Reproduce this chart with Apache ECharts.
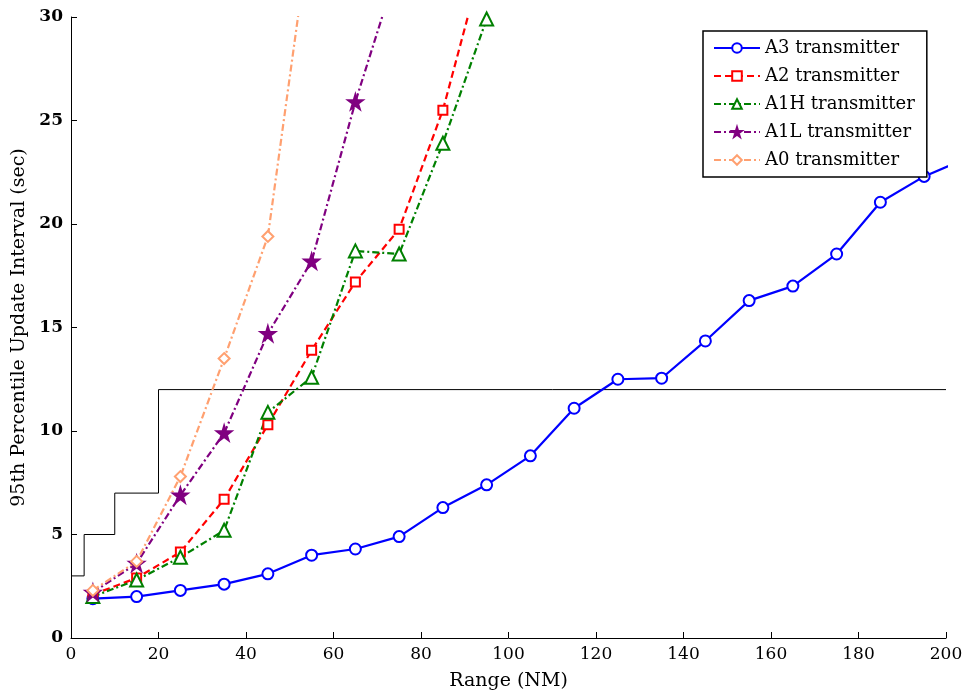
<!DOCTYPE html>
<html>
<head>
<meta charset="utf-8">
<script src="https://cdn.jsdelivr.net/npm/echarts@6/dist/echarts.min.js"></script>
<style>html,body{margin:0;padding:0;background:#fff}#c{width:970px;height:700px}</style>
</head>
<body>
<div id="c"></div>
<script>
const seriesNames = ['A3 transmitter','A2 transmitter','A1H transmitter','A1L transmitter','A0 transmitter'];
const a3X = [5,15,25,35,45,55,65,75,85,95,105,115,125,135,145,155,165,175,185,195,205];
const a3Y = [1.9,2.0,2.3,2.6,3.1,4.0,4.3,4.9,6.3,7.4,8.8,11.1,12.5,12.55,14.35,16.3,17.0,18.55,21.05,22.3,23.2];
const a2X = [5,15,25,35,45,55,65,75,85,95];
const a2Y = [2.1,2.9,4.15,6.7,10.3,13.9,17.2,19.75,25.5,33.4];
const a1hX = [5,15,25,35,45,55,65,75,85,95];
const a1hY = [2.0,2.8,3.9,5.2,10.9,12.6,18.7,18.55,23.9,29.9];
const a1lX = [5,15,25,35,45,55,65,75];
const a1lY = [2.2,3.6,6.9,9.9,14.7,18.2,25.9,32.6];
const a0X = [5,15,25,35,45,55];
const a0Y = [2.3,3.7,7.8,13.5,19.4,34.8];
const reqX = [0,3,3,10,10,20,20,200];
const reqY = [3,3,5,5,7,7,12,12];
const xTicks = [0,20,40,60,80,100,120,140,160,180,200];
const yTicks = [0,5,10,15,20,25,30];

const zip = (xs, ys) => xs.map((x, i) => [x, ys[i]]);
const STAR = 'path://M50,0 L61,35 L98,35 L68,57 L79,91 L50,70 L21,91 L32,57 L2,35 L39,35 Z';
const serif = 'DejaVu Serif';

function mk(name, data, color, symbol, size, dash) {
  return {
    name: name, type: 'line', data: data, clip: true,
    symbol: symbol, symbolSize: size, showAllSymbol: true,
    color: color,
    lineStyle: {color: color, width: 2.2, type: dash},
    itemStyle: {color: color, borderColor: color, borderWidth: 2.2},
    emphasis: {disabled: true}, animation: false
  };
}

const chart = echarts.init(document.getElementById('c'));
chart.setOption({
  animation: false,
  backgroundColor: '#fff',
  grid: {left: 71, right: 24, top: 17, bottom: 62},
  xAxis: {
    type: 'value', min: 0, max: 200, interval: 20,
    name: 'Range (NM)', nameLocation: 'middle', nameGap: 34,
    nameTextStyle: {fontFamily: serif, fontSize: 19, color: '#000'},
    axisLine: {lineStyle: {color: '#000', width: 1}},
    axisTick: {inside: true, length: 6, lineStyle: {color: '#000'}},
    axisLabel: {fontFamily: serif, fontSize: 17, color: '#000', margin: 8,
      formatter: v => xTicks.includes(v) ? String(v) : ''},
    splitLine: {show: false}
  },
  yAxis: {
    type: 'value', min: 0, max: 30, interval: 5,
    name: '95th Percentile Update Interval (sec)', nameLocation: 'middle', nameGap: 42,
    nameTextStyle: {fontFamily: serif, fontSize: 19, color: '#000'},
    axisLine: {lineStyle: {color: '#000', width: 1}},
    axisTick: {inside: true, length: 6, lineStyle: {color: '#000'}},
    axisLabel: {fontFamily: serif, fontSize: 17, fontWeight: 'bold', color: '#000', margin: 8,
      formatter: v => yTicks.includes(v) ? String(v) : ''},
    splitLine: {show: false}
  },
  legend: {
    data: seriesNames,
    orient: 'vertical', left: 703, top: 31,
    padding: [8, 12, 8, 10],
    itemWidth: 46, itemHeight: 12, itemGap: 10,
    borderColor: '#000', borderWidth: 1.5,
    backgroundColor: '#fff',
    textStyle: {fontFamily: serif, fontSize: 18, color: '#000'}
  },
  series: [
    {
      name: 'req', type: 'line', data: zip(reqX, reqY), symbol: 'none',
      lineStyle: {color: '#000', width: 1}, silent: true, z: 1, animation: false
    },
    mk(seriesNames[0], zip(a3X, a3Y), '#0000ff', 'emptyCircle', 11, 'solid'),
    mk(seriesNames[1], zip(a2X, a2Y), '#ff0000', 'emptyRect', 9, [7, 4]),
    mk(seriesNames[2], zip(a1hX, a1hY), '#008000', 'emptyTriangle', 13, [7, 3, 2, 3]),
    mk(seriesNames[3], zip(a1lX, a1lY), '#800080', STAR, 14, [7, 3, 2, 3]),
    mk(seriesNames[4], zip(a0X, a0Y), '#ffa070', 'emptyDiamond', 11, [7, 3, 2, 3])
  ]
});
</script>
</body>
</html>
